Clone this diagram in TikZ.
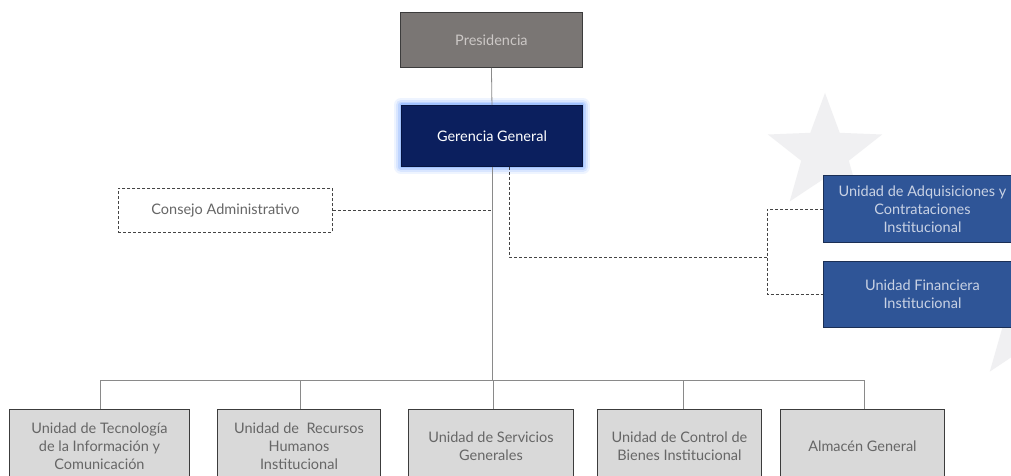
\documentclass[tikz,border=0pt]{standalone}
\usepackage{fontspec}
\setmainfont{Lato}
\usetikzlibrary{backgrounds}
\definecolor{presfill}{HTML}{7A7674}
\definecolor{presText}{HTML}{CCC8C6}
\definecolor{boxedge}{HTML}{3C3C3C}
\definecolor{gerfill}{HTML}{0B1F5E}
\definecolor{geredge}{HTML}{061440}
\definecolor{glowcol}{HTML}{8FB8FF}
\definecolor{bluefill}{HTML}{2F5597}
\definecolor{blueedge}{HTML}{1B2F55}
\definecolor{blueText}{HTML}{C9D2E4}
\definecolor{greyfill}{HTML}{D9D9D9}
\definecolor{greyText}{HTML}{666666}
\definecolor{dashcol}{HTML}{444444}
\definecolor{linecol}{HTML}{8A8A8A}
\definecolor{starcol}{HTML}{F0F0F2}
\begin{document}
\begin{tikzpicture}[x=1pt,y=-1pt,
  base/.style={draw, line width=0.9pt, anchor=north west, align=center, inner sep=2pt, font=\fontsize{14.5}{18.2}\selectfont},
  presbox/.style={base, fill=presfill, draw=boxedge, text=presText},
  gerbox/.style={base, fill=gerfill, draw=geredge, text=white},
  bluebox/.style={base, fill=bluefill, draw=blueedge, text=blueText},
  greybox/.style={base, fill=greyfill, draw=boxedge, text=greyText},
  dashbox/.style={base, draw=dashcol, dash pattern=on 3pt off 2pt, fill=white, text=greyText},
  solidline/.style={draw=linecol, line width=0.8pt},
  dashline/.style={draw=dashcol, line width=0.9pt, dash pattern=on 3pt off 2pt},
  starshape/.style={fill=starcol, draw=none}
]
\useasboundingbox (0,0) rectangle (1011,476);

% top
\node[presbox, minimum width=182pt, minimum height=55pt] (pres) at (400,12) {Presidencia};
\node[gerbox, minimum width=181pt, minimum height=61pt] (ger) at (401,105) {Gerencia General};

% dashed side boxes
\node[dashbox, minimum width=214pt, minimum height=44pt] (cons) at (118,188) {Consejo Administrativo};
\node[bluebox, minimum width=198pt, minimum height=67pt] (adq) at (823,175) {Unidad de Adquisiciones y\\Contrataciones\\Institucional};
\node[bluebox, minimum width=198pt, minimum height=66pt] (fin) at (823,261) {Unidad Financiera\\Institucional};

% bottom row
\node[greybox, minimum width=180pt, minimum height=74pt] (b1) at (9,409) {Unidad de Tecnología\\de la Información y\\Comunicación};
\node[greybox, minimum width=163pt, minimum height=74pt] (b2) at (217,409) {Unidad de~ Recursos\\Humanos\\Institucional};
\node[greybox, minimum width=165pt, minimum height=74pt] (b3) at (408,409) {Unidad de Servicios\\Generales};
\node[greybox, minimum width=164pt, minimum height=74pt] (b4) at (597,409) {Unidad de Control de\\Bienes Institucional};
\node[greybox, minimum width=164pt, minimum height=74pt] (b5) at (780,409) {Almacén General};

% coordinates
\coordinate (busL) at (100,380);
\coordinate (busR) at (864,380);
\coordinate (jn) at (767,257);

% solid connectors
\draw[solidline] (pres.south) -- (ger.north);
\draw[solidline] (ger.south) -- (ger.south |- busL);
\draw[solidline] (busL) -- (busR);
\draw[solidline] (b1.north -| busL) -- (busL);
\draw[solidline] ([xshift=1pt]b2.north) -- ([xshift=1pt]b2.north |- busL);
\draw[solidline] ([xshift=2pt]b3.north) -- ([xshift=2pt]b3.north |- busL);
\draw[solidline] ([xshift=4pt]b4.north) -- ([xshift=4pt]b4.north |- busL);
\draw[solidline] (b5.north -| busR) -- (busR);

% dashed connectors
\draw[dashline] (cons.east) -- (cons.east -| ger.south);
\draw[dashline] ([xshift=17.5pt]ger.south) |- (jn);
\draw[dashline] (adq.west) -| (jn) |- (fin.west);

\begin{pgfonlayer}{background}
  \fill[white] (0,0) rectangle (1011,476);
  \fill[starshape] (825,93) -- (810.3,132.8) -- (767.9,134.5) -- (801.2,160.7) -- (789.7,201.5)
    -- (825,178) -- (860.3,201.5) -- (848.8,160.7) -- (882.1,134.5) -- (839.7,132.8) -- cycle;
  \fill[starshape] (1031,245) -- (1013.9,291.5) -- (964.4,293.4) -- (1003.4,324) -- (989.8,371.6)
    -- (1031,344) -- (1072.2,371.6) -- (1058.6,324) -- (1097.6,293.4) -- (1048.1,291.5) -- cycle;
  \foreach \w/\o in {14/0.15, 10/0.22, 6/0.35, 3/0.6} {
    \draw[glowcol, line width=\w pt, opacity=\o, line join=round] (ger.north west) rectangle (ger.south east);
  }
\end{pgfonlayer}
\end{tikzpicture}
\end{document}
